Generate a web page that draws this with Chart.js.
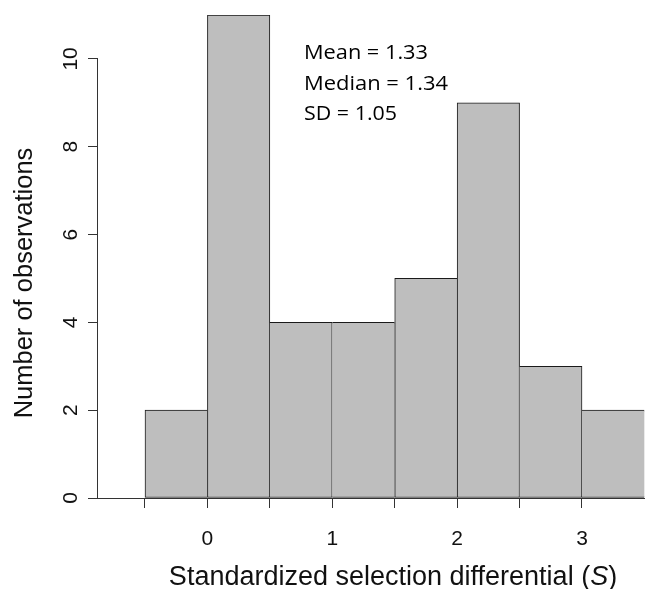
<!DOCTYPE html>
<html>
<head>
<meta charset="utf-8">
<script src="https://cdn.jsdelivr.net/npm/chart.js@4.4.0/dist/chart.umd.min.js"></script>
<style>
  html, body { margin: 0; padding: 0; background: #fff; }
  #wrap { width: 645px; height: 589px; }
</style>
</head>
<body>
<div id="wrap"><canvas id="chart"></canvas></div>
<script>
// histogram bins (width 0.5) and counts
const binCenters = [-0.25, 0.25, 0.75, 1.25, 1.75, 2.25, 2.75, 3.25];
const counts = [2, 11, 4, 4, 5, 9, 3, 2];
const xTicks = [-0.5, 0, 0.5, 1, 1.5, 2, 2.5, 3];
const yTicks = [0, 2, 4, 6, 8, 10];
const statLines = ['Mean = 1.33', 'Median = 1.34', 'SD = 1.05'];

const axisFont = '"Liberation Sans", Arial, sans-serif';

// R-style bits: short y axis, rotated labels, titles, stats text
const extras = {
  id: 'extras',
  afterDraw(chart) {
    const { ctx, chartArea, scales } = chart;
    const ys = scales.y;
    ctx.save();

    // y axis line only from 0 to 10
    ctx.strokeStyle = '#333';
    ctx.lineWidth = 1;
    const ax = Math.round(chartArea.left) - 0.5;
    ctx.beginPath();
    ctx.moveTo(ax, ys.getPixelForValue(yTicks[0]));
    ctx.lineTo(ax, ys.getPixelForValue(yTicks[yTicks.length - 1]));
    ctx.stroke();

    // y tick labels, rotated
    ctx.fillStyle = '#111';
    ctx.font = '21px ' + axisFont;
    ctx.textAlign = 'center';
    ctx.textBaseline = 'middle';
    yTicks.forEach(v => {
      ctx.save();
      ctx.translate(71, ys.getPixelForValue(v));
      ctx.rotate(-Math.PI / 2);
      ctx.fillText(String(v), 0, 0);
      ctx.restore();
    });

    // y title
    ctx.save();
    ctx.font = '25.5px ' + axisFont;
    ctx.textBaseline = 'alphabetic';
    ctx.translate(32, 283);
    ctx.rotate(-Math.PI / 2);
    ctx.fillText('Number of observations', 0, 0);
    ctx.restore();

    // x title with italic S
    const parts = [
      { t: 'Standardized selection differential (', f: '27px ' + axisFont },
      { t: 'S', f: 'italic 27px ' + axisFont },
      { t: ')', f: '27px ' + axisFont }
    ];
    let total = 0;
    parts.forEach(p => { ctx.font = p.f; p.w = ctx.measureText(p.t).width; total += p.w; });
    let px = 393 - total / 2;
    ctx.textAlign = 'left';
    ctx.textBaseline = 'alphabetic';
    parts.forEach(p => { ctx.font = p.f; ctx.fillText(p.t, px, 585); px += p.w; });

    // summary stats
    const targetW = [124, 144, 93];
    ctx.font = '19.5px "Open Sans", Carlito, Lato, sans-serif';
    ctx.fillStyle = '#000';
    statLines.forEach((s, i) => {
      const w = ctx.measureText(s).width;
      ctx.save();
      ctx.translate(304, 59 + i * 30.5);
      ctx.scale(targetW[i] / w, 1);
      ctx.fillText(s, 0, 0);
      ctx.restore();
    });

    ctx.restore();
  }
};

// draw each shared edge once, by the taller neighbour
function edgeWidths(ctx) {
  const i = ctx.dataIndex;
  const n = counts.length;
  const left = (i === 0 || counts[i] > counts[i - 1]) ? 1 : 0;
  const right = (i < n - 1 && counts[i] >= counts[i + 1]) ? 1 : 0;
  return { top: 1, bottom: 1, left: left, right: right };
}

new Chart(document.getElementById('chart'), {
  type: 'bar',
  data: {
    datasets: [{
      data: binCenters.map((c, i) => ({ x: c, y: counts[i] })),
      backgroundColor: '#bebebe',
      borderColor: '#1a1a1a',
      borderWidth: edgeWidths,
      borderSkipped: false,
      barPercentage: 1,
      categoryPercentage: 1
    }]
  },
  options: {
    responsive: true,
    maintainAspectRatio: false,
    animation: false,
    layout: { padding: { top: 15, left: 0, right: 0, bottom: 0 } },
    plugins: {
      legend: { display: false },
      tooltip: { enabled: false },
      title: { display: false }
    },
    scales: {
      x: {
        type: 'linear',
        offset: false,
        min: -0.8764,
        max: 3.5046,
        afterBuildTicks: s => { s.ticks = xTicks.map(v => ({ value: v })); },
        afterFit: s => { s.height = 91; },
        grid: {
          offset: false,
          drawOnChartArea: false,
          drawTicks: true,
          tickLength: 10,
          color: '#333',
          lineWidth: 1
        },
        border: { display: true, color: '#333', width: 1 },
        ticks: {
          autoSkip: false,
          maxRotation: 0,
          padding: 19,
          color: '#111',
          font: { family: axisFont, size: 21 },
          callback: v => Number.isInteger(v) ? String(v) : ''
        }
      },
      y: {
        min: 0,
        max: 11,
        afterBuildTicks: s => { s.ticks = yTicks.map(v => ({ value: v })); },
        afterFit: s => { s.width = 98; },
        grid: {
          drawOnChartArea: false,
          drawTicks: true,
          tickLength: 10,
          color: '#333',
          lineWidth: 1
        },
        border: { display: false },
        ticks: { display: false }
      }
    }
  },
  plugins: [extras]
});
</script>
</body>
</html>
